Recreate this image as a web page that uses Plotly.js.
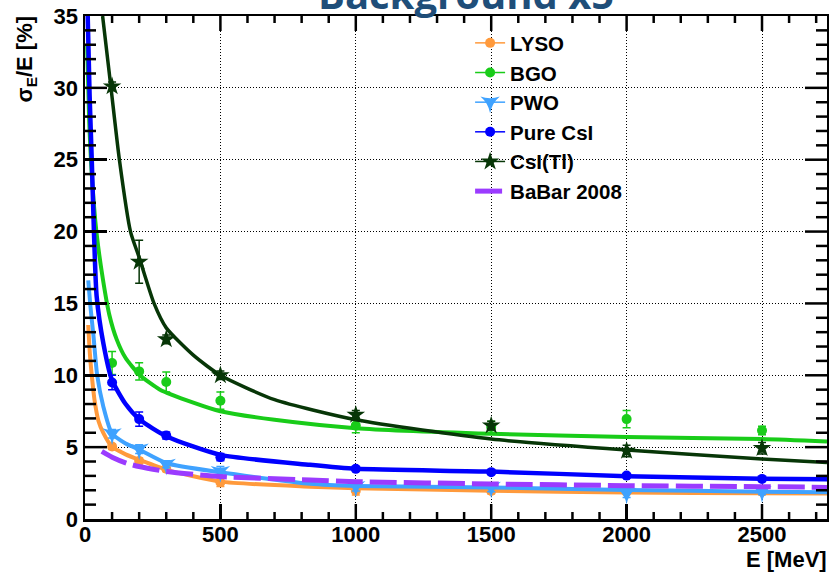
<!DOCTYPE html>
<html>
<head>
<meta charset="utf-8">
<script src="https://cdn.plot.ly/plotly-3.0.1.min.js"></script>
<style>html,body{margin:0;padding:0;background:#fff;}#chart{width:829px;height:572px;}</style>
</head>
<body>
<div id="chart"></div>
<script>
// ---- measured points (E in MeV, sigma_E/E in %) ----
const energies = [100, 200, 300, 500, 1000, 1500, 2000, 2500];

const lysoVals = [5.04, 4.04, 3.5, 2.56, 1.97, 1.95, 1.9, 1.9];
const lysoErr  = [0.2, 0.2, 0.2, 0.3, 0.3, 0.2, 0.2, 0.2];
const bgoVals  = [10.86, 10.27, 9.53, 8.23, 6.5, 6.4, 6.95, 6.16];
const bgoErr   = [0.8, 0.6, 0.7, 0.6, 0.5, 0.4, 0.6, 0.3];
const pwoVals  = [5.93, 4.86, 3.81, 3.3, 2.25, 2.2, 1.79, 1.9];
const pwoErr   = [0.3, 0.3, 0.25, 0.35, 0.3, 0.3, 0.3, 0.2];
const csiVals  = [9.5, 6.95, 5.81, 4.3, 3.49, 3.26, 3.02, 2.79];
const csiErr   = [0.5, 0.5, 0.25, 0.25, 0.15, 0.15, 0.15, 0.15];
const csitlVals = [30.1, 17.9, 12.5, 10.0, 7.25, 6.5, 4.74, 4.93];
const csitlErr  = [0.3, 1.5, 0.3, 0.3, 0.3, 0.3, 0.4, 0.4];

// ---- fitted curves ----
const lysoFitE = [12, 18, 25, 35, 50, 68, 99, 150, 203, 302, 500, 831, 1000, 1500, 2000, 2500, 2740];
const lysoFitV = [13.5, 11.5, 10.0, 8.3, 6.8, 5.97, 5.04, 4.5, 4.1, 3.42, 2.6, 2.25, 2.14, 1.97, 1.84, 1.8, 1.77];
const bgoFitE = [8, 15, 25, 42, 66, 90, 117, 150, 203, 277, 400, 500, 700, 1000, 1500, 2000, 2500, 2740];
const bgoFitV = [33, 28, 24, 20, 16.7, 14.2, 12.5, 11.2, 10.0, 9.0, 8.1, 7.5, 6.9, 6.32, 5.93, 5.7, 5.56, 5.39];
const pwoFitE = [12, 20, 31, 45, 68, 99, 150, 203, 302, 500, 831, 1000, 1500, 2000, 2500, 2740];
const pwoFitV = [16.6, 14.8, 12.8, 10.0, 7.8, 5.97, 5.25, 4.8, 3.88, 3.25, 2.45, 2.3, 2.2, 2.02, 1.9, 1.86];
const csiFitE = [10, 17, 25, 33, 43, 68, 99, 150, 203, 302, 500, 831, 1000, 1500, 2000, 2500, 2740];
const csiFitV = [35, 29.5, 25, 20, 15.5, 12.2, 9.7, 8.0, 6.9, 5.74, 4.46, 3.77, 3.49, 3.3, 2.98, 2.8, 2.77];
const csitlFitE = [65, 96, 127, 168, 200, 255, 300, 400, 500, 700, 1000, 1500, 2000, 2500, 2740];
const csitlFitV = [35, 30, 25, 20, 18.2, 15, 13.3, 11.4, 10.0, 8.3, 6.9, 5.56, 4.8, 4.18, 3.93];
const babarE = [62, 100, 154, 200, 302, 500, 831, 1000, 1500, 2000, 2500, 2740];
const babarV = [4.7, 4.3, 3.88, 3.65, 3.3, 2.95, 2.72, 2.6, 2.44, 2.32, 2.25, 2.2];

const seriesNames = ['LYSO', 'BGO', 'PWO', 'Pure CsI', 'CsI(Tl)', 'BaBar 2008'];
const xTicks = [0, 500, 1000, 1500, 2000, 2500];
const yTicks = [0, 5, 10, 15, 20, 25, 30, 35];
const xRange = [0, 2740];
const yRange = [0, 35];
const xMinorStep = 100, yMinorStep = 1;

// ---- build traces ----
function gapped(arr) { const out = []; arr.forEach(v => { out.push(v, null); }); return out; }
function gappedX(arr) { const out = []; arr.forEach(v => { out.push(v, v); }); return out; }

function fitTrace(E, V, color, width, group) {
  return {x: E, y: V, mode: 'lines', type: 'scatter', line: {color: color, width: width, shape: 'spline', smoothing: 0.6},
          showlegend: false, legendgroup: group, hoverinfo: 'skip'};
}
function ptTrace(name, V, err, color, symbol, size) {
  return {x: gappedX(energies), y: gapped(V), name: name, legendgroup: name, type: 'scatter', mode: 'lines+markers',
          line: {color: color, width: 1.5}, connectgaps: false,
          marker: {color: color, symbol: symbol, size: size, line: {width: 0}},
          error_y: {type: 'data', array: gapped(err), visible: true, color: color, thickness: 1.5, width: 4}};
}

const cLyso = '#ff9a3c', cBgo = '#19cc19', cPwo = '#3fa2ff', cCsi = '#0000ff', cCsitl = '#073607', cBabar = '#9b3bff';

const data = [
  fitTrace(lysoFitE, lysoFitV, cLyso, 4, seriesNames[0]),
  ptTrace(seriesNames[0], lysoVals, lysoErr, cLyso, 'circle', 10),
  fitTrace(bgoFitE, bgoFitV, cBgo, 4, seriesNames[1]),
  ptTrace(seriesNames[1], bgoVals, bgoErr, cBgo, 'circle', 10),
  fitTrace(pwoFitE, pwoFitV, cPwo, 4, seriesNames[2]),
  ptTrace(seriesNames[2], pwoVals, pwoErr, cPwo, 'star-triangle-down', 14),
  fitTrace(csiFitE, csiFitV, cCsi, 4.5, seriesNames[3]),
  ptTrace(seriesNames[3], csiVals, csiErr, cCsi, 'circle', 10),
  fitTrace(csitlFitE, csitlFitV, cCsitl, 3.5, seriesNames[4]),
  ptTrace(seriesNames[4], csitlVals, csitlErr, cCsitl, 'star', 14),
  {x: babarE, y: babarV, name: seriesNames[5], legendgroup: seriesNames[5], type: 'scatter', mode: 'lines',
   line: {color: cBabar, width: 5, dash: '27px,7px', shape: 'spline', smoothing: 0.6}}
];

// ---- axis tick marks (ROOT style: inside, on all four sides) ----
const plotW = 829 - 85 - 2, plotH = 572 - 16 - 53;
const tickLine = {color: '#000', width: 2.5};
const shapes = [];
function xTick(v, lenPx) {
  const f = lenPx / plotH;
  shapes.push({type: 'line', xref: 'x', yref: 'paper', x0: v, x1: v, y0: 0, y1: f, line: tickLine, layer: 'above'});
  shapes.push({type: 'line', xref: 'x', yref: 'paper', x0: v, x1: v, y0: 1, y1: 1 - f, line: tickLine, layer: 'above'});
}
function yTick(v, lenPx) {
  const f = lenPx / plotW;
  shapes.push({type: 'line', xref: 'paper', yref: 'y', x0: 0, x1: f, y0: v, y1: v, line: tickLine, layer: 'above'});
  shapes.push({type: 'line', xref: 'paper', yref: 'y', x0: 1, x1: 1 - f, y0: v, y1: v, line: tickLine, layer: 'above'});
}
for (let v = xRange[0] + xMinorStep; v < xRange[1]; v += xMinorStep) {
  xTick(v, xTicks.includes(v) ? 15 : 7);
}
for (let v = yRange[0] + yMinorStep; v < yRange[1]; v += yMinorStep) {
  yTick(v, yTicks.includes(v) ? 22 : 11);
}

const tickFont = {family: 'Liberation Sans, Arial, sans-serif', size: 22, color: '#000', weight: 'bold'};

const layout = {
  width: 829, height: 572,
  margin: {l: 85, r: 2, t: 16, b: 53},
  paper_bgcolor: '#fff', plot_bgcolor: '#fff',
  showlegend: true,
  legend: {x: 0.519, y: 0.986, xanchor: 'left', yanchor: 'top', bgcolor: 'rgba(0,0,0,0)', borderwidth: 0,
           traceorder: 'grouped', tracegroupgap: 0,
           font: {family: 'Liberation Sans, Arial, sans-serif', size: 20.5, color: '#000', weight: 'bold'}},
  xaxis: {range: xRange, tickmode: 'array', tickvals: xTicks, ticktext: xTicks.map(String),
          ticks: 'inside', ticklen: 15, tickwidth: 2.5, ticklabelstandoff: -6,
          tickcolor: '#000', showline: true, linewidth: 2.5, linecolor: '#000', mirror: true,
          showgrid: true, gridcolor: '#000', gridwidth: 1, griddash: '1px,2px', zeroline: false, tickfont: tickFont},
  yaxis: {range: yRange, tickmode: 'array', tickvals: yTicks, ticktext: yTicks.map(String),
          ticks: 'inside', ticklen: 22, tickwidth: 2.5, ticklabelstandoff: 0,
          tickcolor: '#000', showline: true, linewidth: 2.5, linecolor: '#000', mirror: true,
          showgrid: true, gridcolor: '#000', gridwidth: 1, griddash: '1px,2px', zeroline: false, tickfont: tickFont},
  shapes: shapes,
  annotations: [
    {text: 'Background x5', xref: 'paper', yref: 'paper', x: 0.5135, y: 1, xanchor: 'center', yanchor: 'bottom', yshift: -7,
     showarrow: false, font: {family: 'Open Sans, sans-serif', size: 40, color: '#1f4e79', weight: 'bold'}},
    {text: 'σ<sub>E</sub>/E [%]', xref: 'paper', yref: 'paper', x: -0.079, y: 1, xanchor: 'center', yanchor: 'top', yshift: 2,
     textangle: -90, showarrow: false, font: {family: 'Liberation Sans, Arial, sans-serif', size: 22, color: '#000', weight: 'bold'}},
    {text: 'E [MeV]', xref: 'paper', yref: 'paper', x: 1, y: 0, xanchor: 'right', yanchor: 'top', yshift: -26, xshift: 2,
     showarrow: false, font: {family: 'Liberation Sans, Arial, sans-serif', size: 22, color: '#000', weight: 'bold'}}
  ]
};

Plotly.newPlot('chart', data, layout, {displayModeBar: false, staticPlot: true});
</script>
</body>
</html>
